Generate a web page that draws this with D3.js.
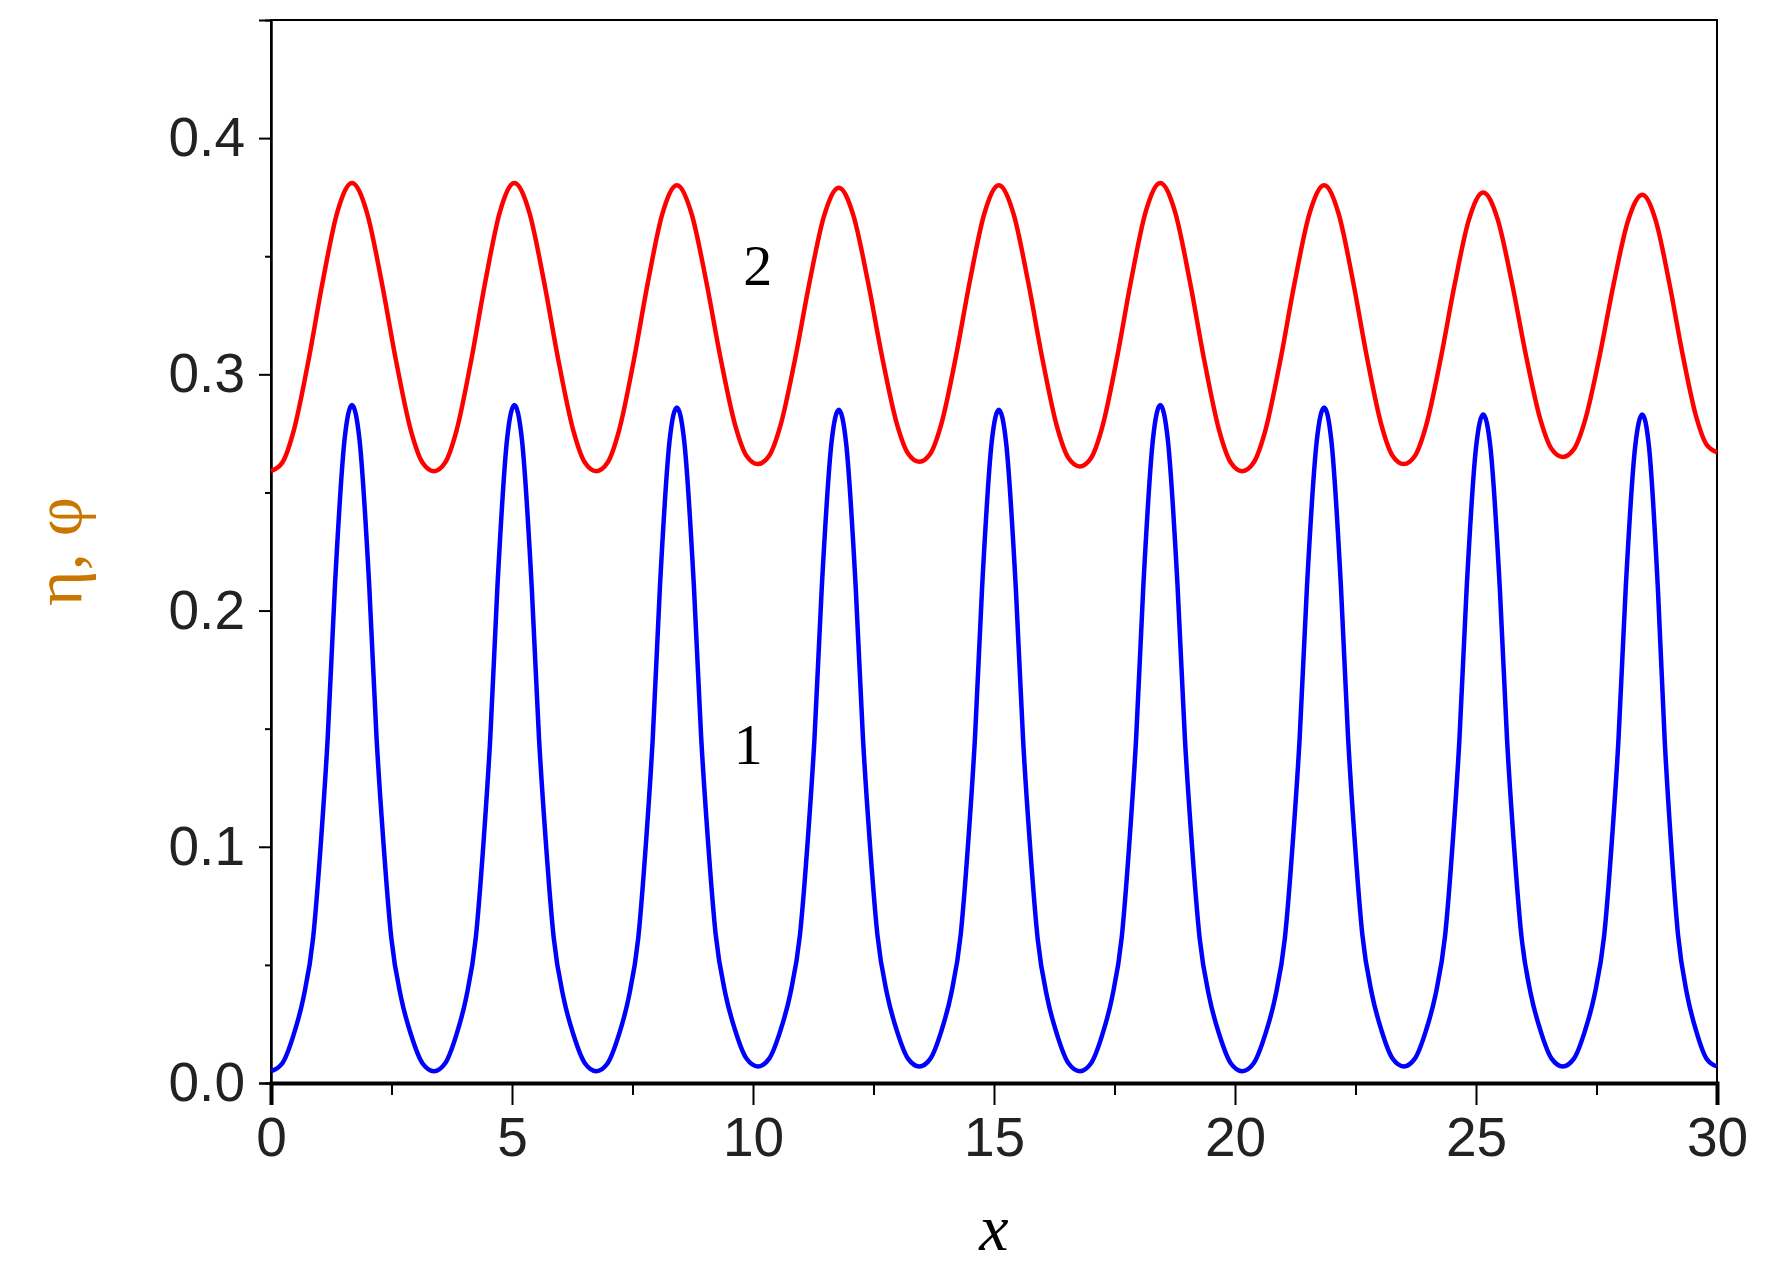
<!DOCTYPE html>
<html>
<head>
<meta charset="utf-8">
<script src="https://cdn.jsdelivr.net/npm/d3@7"></script>
<style>
  body { margin: 0; background: #fff; }
</style>
</head>
<body>
<div id="chart"></div>
<script>
// peak positions
const peakX = [1.68, 5.05, 8.42, 11.78, 15.1, 18.45, 21.85, 25.15, 28.45];
const bluePeakY = [0.287, 0.287, 0.286, 0.285, 0.285, 0.287, 0.286, 0.283, 0.283];
const redPeakY = [0.381, 0.381, 0.380, 0.379, 0.380, 0.381, 0.380, 0.377, 0.376];
const troughX = [0, 3.38, 6.75, 10.1, 13.45, 16.78, 20.15, 23.5, 26.8, 30];
const blueTroughY = [0.005, 0.005, 0.005, 0.007, 0.007, 0.005, 0.005, 0.007, 0.007, 0.007];
const redTroughY = [0.259, 0.259, 0.259, 0.262, 0.263, 0.261, 0.259, 0.262, 0.265, 0.267];
// shape of one flank, fraction of peak-to-trough distance vs fraction of height
const blueShapeT = [0, 0.09, 0.21, 0.3, 0.38, 0.48, 0.6, 0.72, 0.86, 1];
const blueShapeV = [1, 0.95, 0.73, 0.5, 0.35, 0.2, 0.11, 0.055, 0.012, 0];
const redShapeT = [0, 0.18, 0.36, 0.54, 0.72, 0.86, 1];
const redShapeV = [1, 0.9, 0.66, 0.38, 0.14, 0.03, 0];
const xTicks = [0, 5, 10, 15, 20, 25, 30];
const yTicks = [0, 0.1, 0.2, 0.3, 0.4];

function buildSeries(peakY, troughY, shapeT, shapeV) {
  const pts = [];
  for (let i = 0; i < troughX.length - 1; i++) {
    const t0 = troughX[i], t1 = troughX[i + 1], p = peakX[i];
    // rising flank
    for (let k = shapeT.length - 1; k >= 0; k--) {
      pts.push([p - shapeT[k] * (p - t0), troughY[i] + shapeV[k] * (peakY[i] - troughY[i])]);
    }
    // falling flank
    for (let k = 1; k < shapeT.length; k++) {
      pts.push([p + shapeT[k] * (t1 - p), troughY[i + 1] + shapeV[k] * (peakY[i] - troughY[i + 1])]);
    }
  }
  return pts;
}

const blue = buildSeries(bluePeakY, blueTroughY, blueShapeT, blueShapeV);
const red = buildSeries(redPeakY, redTroughY, redShapeT, redShapeV);

const W = 1765, H = 1270;
const m = { left: 271, right: 48, top: 20, bottom: 187 };

const svg = d3.select("#chart").append("svg").attr("width", W).attr("height", H);

const x = d3.scaleLinear().domain([0, 30]).range([m.left, W - m.right]);
const y = d3.scaleLinear().domain([0, 0.45]).range([H - m.bottom, m.top]);

//Frame
svg.append("rect")
  .attr("x", x(0)).attr("y", y(0.45))
  .attr("width", x(30) - x(0)).attr("height", y(0) - y(0.45))
  .attr("fill", "none").attr("stroke", "#000").attr("stroke-width", 2);

//Axes
const xAxis = svg.append("g").attr("transform", `translate(0,${y(0)})`)
  .call(d3.axisBottom(x).tickValues(xTicks).tickSize(22).tickPadding(12).tickFormat(d3.format("d")));
svg.append("g").attr("transform", `translate(0,${y(0)})`)
  .call(d3.axisBottom(x).tickValues(d3.range(2.5, 30, 5)).tickSize(12).tickFormat(""));
const yAxis = svg.append("g").attr("transform", `translate(${x(0)},0)`)
  .call(d3.axisLeft(y).tickValues(yTicks).tickSize(12).tickPadding(14).tickFormat(d3.format(".1f")));
svg.append("g").attr("transform", `translate(${x(0)},0)`)
  .call(d3.axisLeft(y).tickValues([0.05, 0.15, 0.25, 0.35]).tickSize(6).tickFormat(""));

svg.selectAll(".domain").attr("stroke", "#000").attr("stroke-width", 2);
svg.selectAll(".tick line").attr("stroke", "#000").attr("stroke-width", 2);
svg.selectAll(".tick text")
  .attr("font-family", "Liberation Sans, Arial, sans-serif")
  .attr("font-size", 55).attr("fill", "#222");
xAxis.select(".domain").attr("stroke-width", 4);

//Lines
const line = d3.line().x(d => x(d[0])).y(d => y(d[1])).curve(d3.curveMonotoneX);
svg.append("path").datum(red).attr("d", line)
  .attr("fill", "none").attr("stroke", "#f00").attr("stroke-width", 4.5);
svg.append("path").datum(blue).attr("d", line)
  .attr("fill", "none").attr("stroke", "#00f").attr("stroke-width", 4.5);

//Curve labels
svg.append("text").attr("x", x(10.1)).attr("y", y(0.338))
  .attr("text-anchor", "middle").attr("font-family", "Liberation Serif, serif")
  .attr("font-size", 58).text("2");
svg.append("text").attr("x", x(9.9)).attr("y", y(0.135))
  .attr("text-anchor", "middle").attr("font-family", "Liberation Serif, serif")
  .attr("font-size", 58).text("1");

//Axis titles
svg.append("text").attr("x", x(15)).attr("y", 1250)
  .attr("text-anchor", "middle").attr("font-family", "Liberation Serif, serif")
  .attr("font-style", "italic").attr("font-size", 66).text("x");
svg.append("text")
  .attr("transform", `translate(82,${y(0.225)}) rotate(-90)`)
  .attr("text-anchor", "middle").attr("font-family", "Liberation Serif, serif")
  .attr("font-size", 68).attr("fill", "#c87800").text("η, φ");
</script>
</body>
</html>
